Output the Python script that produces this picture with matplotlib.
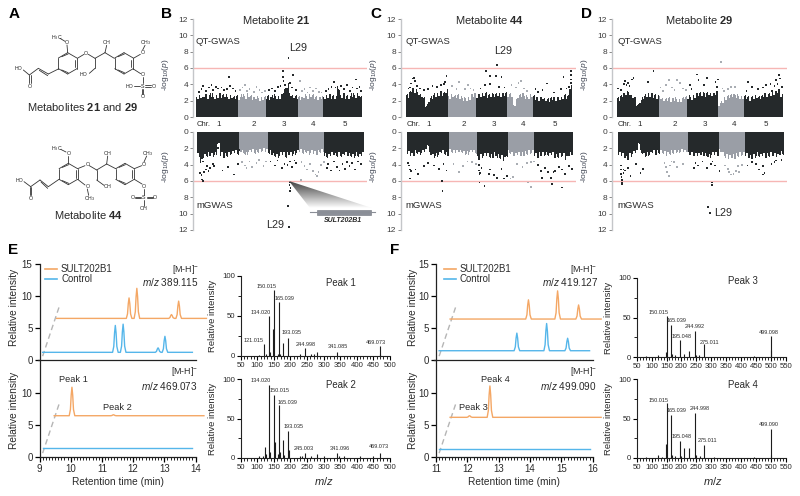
import numpy as np
import matplotlib
matplotlib.use('Agg')
import matplotlib.pyplot as plt
from matplotlib.patches import Polygon, Rectangle

plt.rcParams['font.family'] = ['Liberation Sans', 'DejaVu Sans']
plt.rcParams['mathtext.fontset'] = 'custom'
plt.rcParams['mathtext.rm'] = 'Liberation Sans'
plt.rcParams['mathtext.it'] = 'Liberation Sans:italic'
plt.rcParams['mathtext.bf'] = 'Liberation Sans:bold'

W, H = 800, 496
fig = plt.figure(figsize=(W / 100, H / 100), dpi=100)

DARK, GREY = '#25292b', '#9a9ea6'
ORANGE, BLUE = '#f4a765', '#55b6ea'
TXT = '#2a2a2a'
RED = '#f6b6b4'

# ---------- Manhattan data: 2 Mb bin heights and isolated SNPs ----------
chr_ends = [30, 50, 73, 91, 118]
chr_names = ['1', '2', '3', '4', '5']
chr_mid = [15, 40, 61.5, 82, 104.5]

B_top_env = [2.5,2.7,2.4,2.8,2.6,2.9,2.5,2.7,2.9,2.7,2.8,2.5,2.7,2.5,2.6,
             2.4,2.8,2.6,2.9,2.6,2.4,2.5,2.3,2.4,2.5,
             2.6,2.4,2.7,2.6,2.6,2.8,3.4,4.2,3.0,2.7,2.6,
             2.5,2.4,2.7,2.6,2.8,2.7,2.5,2.4,2.5,
             2.5,2.7,2.8,2.6,2.5,3.8,2.7,2.9,2.6,2.5,2.9,2.7,3.0,2.5]
B_top_x = [65.5,23.4,69,61.5,61.5,62,73.8,66.7,113.5,98,2,4,5,7,9,11,12,14,15.5,18,20,22,24,26,28,
           31,33,35,36,38,41,43,45,47,49,52,54,56,58,60,63,64,68,71,75,77,79,81,83,85,87,89,
           92,94,96,99,101,103,105,107,109,111,114,116,117]
B_top_y = [7.2,4.9,5.1,5.6,4.9,4.4,4.4,4.2,4.6,4.3,3.1,3.4,3.8,3.2,3.6,3.9,3.3,3.7,3.5,3.6,3.3,3.4,3.8,3.5,3.2,
           3.3,3.6,3.9,3.2,3.4,3.1,3.7,3.3,3.0,3.2,3.3,3.5,3.2,3.7,3.8,3.9,3.4,3.6,3.3,3.2,3.4,3.0,3.6,3.2,3.5,3.1,3.0,
           3.2,3.4,3.7,3.6,3.3,3.8,3.4,3.9,3.2,3.6,3.5,3.7,3.2]

B_bot_env = [3.0,3.8,3.2,3.0,2.9,3.0,2.8,1.5,2.9,3.2,3.0,2.8,2.7,2.6,2.7,
             2.4,2.6,2.8,2.5,2.4,2.6,2.5,2.4,2.3,2.4,
             2.6,2.8,3.0,3.1,2.9,2.8,3.1,2.8,2.9,2.7,2.6,
             2.4,2.6,2.5,2.7,2.6,2.7,2.8,2.5,2.4,
             3.0,3.2,2.9,2.8,3.0,2.9,3.1,2.8,2.9,3.0,3.1,2.9,3.1,2.9]
B_bot_x = [3,3.5,4,5,6,7,8,9,11,14.5,15,18,22,26,29,4,12,2,
           32,34,37,39,42,44,47,49,35,
           52,55,57,60,62,64,66,67,69,70,
           74,76,78,80,82,84,86,85,88,90,
           92,93,95,97,99,101,103,105,106,108,110,112,114,116,
           66,65.5,65.8,66.2,64.5,65.2,73.5]
B_bot_y = [5.3,5.8,6.0,4.9,4.6,4.2,4.8,4.4,3.9,1.4,2.0,4.7,4.3,5.2,3.9,3.6,4.2,5.0,
           3.7,4.1,3.6,4.3,3.8,3.4,4.2,3.6,4.4,
           3.6,4.1,3.5,4.4,3.9,4.0,3.6,4.3,3.5,3.8,
           3.7,4.2,4.6,3.9,4.8,5.2,4.9,5.4,4.0,3.7,
           4.4,3.9,4.7,3.6,4.3,4.7,3.9,4.5,3.7,4.2,3.8,4.6,3.6,3.9,
           6.2,6.5,7.2,6.9,9.1,11.6,5.9]

C_top_env = [2.7,3.1,3.6,3.4,3.1,2.8,2.3,1.4,2.2,2.6,2.9,3.0,3.2,3.0,3.4,
             2.6,2.8,2.6,2.7,2.5,2.3,2.3,2.4,2.8,2.9,
             2.7,2.8,3.0,3.0,2.7,2.9,2.8,3.0,2.9,2.9,3.0,
             2.8,2.9,1.5,2.2,2.7,2.9,2.6,2.5,2.8,
             2.6,2.4,2.3,2.5,2.3,2.2,2.3,2.4,2.3,2.4,2.5,2.7,2.6,4.0]
C_top_x = [3,4,5,6,6.5,2,8,10,13,16,19,22,25,27,28,29,
           33,38,36,42,44,46,48,
           53,56,57,60,64,68,60,66,70,
           75,78,80,82,84,86,
           92,94,97,100,105,110,112,114,116,117,117,117,117,
           65]
C_top_y = [3.6,4.1,4.7,4.8,4.4,3.5,3.8,3.5,3.3,3.4,3.8,3.7,3.9,4.0,4.3,5.0,
           3.8,4.3,3.4,3.4,3.9,3.5,3.3,
           3.5,3.9,5.6,5.0,5.0,4.9,4.0,3.7,3.6,
           3.9,3.6,4.2,4.4,3.5,3.2,
           3.4,3.1,3.3,4.1,3.0,3.4,4.9,3.5,3.7,5.6,5.1,4.6,4.2,
           6.4]
C_bot_env = [2.7,3.0,2.9,2.6,2.8,2.6,2.4,1.6,2.8,3.2,3.0,2.8,2.6,2.7,2.9,
             2.4,2.6,2.6,2.4,2.5,2.7,2.7,2.5,2.5,2.6,
             3.4,3.2,3.0,3.0,3.1,3.2,2.9,3.2,3.3,3.6,3.0,
             2.6,2.9,3.0,2.8,2.9,2.9,2.7,2.6,2.6,
             3.0,3.2,2.9,2.9,2.8,3.0,2.8,3.2,3.1,3.0,3.0,3.4,2.9,2.8]
C_bot_x = [1,1.5,2,2,3,6,8,12,15,19,23,26,28,
           33,37,40,43,46,49,
           51,51,52,53,51.5,58,59,62,64,67,69,71,
           75,78,82,85,88,90,
           93,95,96,98,100,102,104,105,108,110,112,115,117,
           51.5,55,73.5,86,88,103,110,25,25.2]
C_bot_y = [3.8,4.1,4.6,5.7,4.8,4.6,5.1,4.2,3.8,4.1,4.5,3.9,4.7,
           3.9,4.9,4.2,3.6,3.7,3.9,
           4.0,4.7,5.0,4.4,5.2,5.1,4.6,5.3,5.6,4.5,5.7,5.4,
           5.5,3.9,4.3,3.8,3.7,3.6,
           4.0,4.8,5.6,4.4,4.9,5.6,4.9,4.8,4.3,4.6,5.1,4.2,4.5,
           6.2,6.6,5.7,6.2,6.7,6.4,6.8,6.0,7.2]

D_top_env = [2.3,2.6,2.9,3.2,3.1,2.7,2.4,1.5,2.0,2.5,2.8,2.9,2.9,2.7,2.6,
             2.6,2.3,2.2,2.3,2.2,2.3,2.2,2.2,2.3,2.5,
             2.6,2.4,2.7,2.9,3.0,3.0,2.9,3.1,3.0,2.9,3.2,
             1.6,2.0,2.4,2.6,2.7,2.8,2.7,2.6,2.6,
             2.6,2.5,2.3,2.6,2.7,2.5,2.6,2.9,2.8,3.0,3.1,3.2,3.4,2.8]
D_top_x = [1,3,5,6,7,8,9,11,12,22,26,31,33,35,37,39,41,43,45,47,49,
           52,53,57,58,62,64,70,71,72,74,75,76,79,81,84,
           92,93,96,100,104,106,109,110,112,113,114,115,116,117]
D_top_y = [3.5,3.3,4.0,4.4,3.9,4.2,3.8,4.6,4.8,4.3,5.6,3.6,3.2,3.9,4.5,3.6,3.3,4.5,4.2,3.5,3.3,
           3.9,3.4,5.2,4.5,3.9,4.8,4.3,3.7,4.6,6.7,3.5,3.2,3.4,3.7,3.7,
           3.2,4.3,3.7,3.4,3.6,3.9,4.0,3.2,3.8,4.5,4.0,5.1,4.7,3.7]
D_bot_env = [2.8,3.0,3.2,3.4,3.0,2.7,2.6,1.3,2.6,3.0,2.9,2.8,2.6,2.8,2.6,
             2.5,2.7,2.9,2.7,2.6,2.5,2.5,2.4,2.5,2.4,
             2.8,2.9,3.0,3.0,2.8,2.9,3.0,3.1,2.8,2.8,2.9,
             2.4,2.9,3.2,3.3,3.2,3.3,3.0,2.9,2.8,
             3.0,3.2,3.3,3.1,2.9,3.1,3.0,3.2,3.0,2.9,3.0,3.1,2.8,2.7]
D_bot_x = [2,2,2,2.5,3,3,3,4,5,7,9,13,16,18,
           33,34,35,37,38,36,40,42,46,
           54,55,57,60,63,66,67,69,72,
           76,78,79,80,82,84,85,86,88,
           92,95,98,100,103,103,104,109,111,112,116,
           66.5,66.5,64,65.5,4]
D_bot_y = [4.1,4.6,5.1,5.5,5.9,6.2,6.4,5.0,4.7,4.4,5.4,3.9,5.0,4.5,
           3.8,4.3,4.9,4.1,3.6,5.4,3.7,4.3,3.9,
           4.4,3.8,4.1,3.6,4.4,3.9,3.6,4.1,4.8,
           4.1,4.5,4.9,5.2,5.1,4.8,4.2,4.9,4.0,
           4.1,3.7,3.9,4.6,4.2,5.2,5.0,3.9,3.7,3.5,3.4,
           6.2,6.5,9.2,9.9,4.6]

# ---------- chromatograms: (retention time, apex value) above a baseline ----------
E_top_org_span = (9.55, 14.35); E_top_org_base = 6.5
E_top_org_rt = [11.87, 12.12, 13.23, 13.46]; E_top_org_apex = [9.7, 11.2, 7.1, 9.2]
E_top_blu_span = (9.1, 13.9); E_top_blu_base = 1.2
E_top_blu_rt = [11.43, 11.68, 12.8, 13.02]; E_top_blu_apex = [5.4, 5.6, 1.9, 3.7]
E_bot_org_span = (9.47, 14.27); E_bot_org_base = 6.45
E_bot_org_rt = [10.04, 11.37]; E_bot_org_apex = [10.9, 6.6]
E_bot_blu_span = (9.1, 13.9); E_bot_blu_base = 1.45
F_top_org_span = (11.45, 16.27); F_top_org_base = 6.4
F_top_org_rt = [13.95, 14.88, 15.55]; F_top_org_apex = [9.4, 10.8, 8.6]
F_top_blu_span = (11.1, 15.9); F_top_blu_base = 1.45
F_top_blu_rt = [13.58, 14.53, 15.2]; F_top_blu_apex = [4.2, 5.7, 3.4]
F_bot_org_span = (11.45, 16.27); F_bot_org_base = 6.2
F_bot_org_rt = [12.07, 12.72]; F_bot_org_apex = [6.45, 11.1]
F_bot_blu_span = (11.1, 15.9); F_bot_blu_base = 1.3

# ---------- MS/MS sticks ----------
P1_mz = [105,121,125,134,137,148,150,163,165,168,178,193,228,245,262,270,281,341,469,471]
P1_in = [1,15,2,50,5,34,83,3,68,3,16,23,2,10,2,2,5,5,13,2]
P1_lab = ['121.015','134.020','150.015','165.039','193.035','244.998','341.085','469.073']
P1_lab_xy = [(254,340),(261,312),(267,287),(285,298),(292,333),(306,345),(338,347),(376,342)]
P2_mz = [105,118,122,125,134,137,150,152,163,165,168,178,182,193,195,228,236,245,262,281,300,341,347,362,410,450,469]
P2_in = [3,2,14,5,93,7,80,20,5,67,7,23,4,34,10,3,3,6,3,5,2,6,3,3,2,2,6]
P2_lab = ['134.020','150.015','165.039','193.035','245.003','341.096','469.073']
P2_lab_xy = [(261,381),(280,391),(288,402),(294,427),(304,448),(340,448),(379,447)]
P3_mz = [80,120,148,150,165,167,180,195,210,224,245,250,260,275,445,499,500]
P3_in = [1,2,6,52,41,4,3,22,4,7,33,3,3,16,1,27,9]
P3_lab = ['150.015','165.039','195.048','244.992','275.011','499.098']
P3_lab_xy = [(659,312),(677,321),(682,336),(695,327),(709,342),(769,333)]
P4_mz = [80,120,135,148,150,165,167,180,195,200,210,224,245,250,262,275,310,445,499,500]
P4_in = [1,4,1,18,69,54,4,3,21,3,13,13,57,4,3,17,1,1,37,4]
P4_lab = ['150.015','165.039','195.048','244.998','275.011','499.090']
P4_lab_xy = [(659,401),(677,411),(682,437),(700,409),(707,440),(769,425)]


def ax_px(x0, y0, x1, y1):
    """Axes from pixel box (top-left origin)."""
    return fig.add_axes([x0 / W, 1 - y1 / H, (x1 - x0) / W, (y1 - y0) / H])


PX_PER_MB = 1.41


def manhattan(axis_x, data_x, right, y_top, y_zero, env, xs, ys, inverted):
    if inverted:
        ax = ax_px(axis_x, y_zero, right, y_top)
        ax.set_ylim(12, 0)
    else:
        ax = ax_px(axis_x, y_top, right, y_zero)
        ax.set_ylim(0, 12)
    ax.set_xlim((axis_x - data_x) / PX_PER_MB, (right - data_x) / PX_PER_MB)
    ends = np.array(chr_ends)
    env = np.array(env)
    centers = np.arange(len(env)) * 2 + 1
    bin_col = [DARK if np.searchsorted(ends, c, side='right') % 2 == 0 else GREY for c in centers]
    # solid body with a comb of thin columns on top: the SNP fringe
    ax.bar(centers, env * 0.86, width=2.02, color=bin_col, linewidth=0, zorder=2)
    ax.bar(centers - 0.45, env, width=0.6, color=bin_col, linewidth=0, zorder=2)
    ax.bar(centers + 0.5, env * 0.93 + 0.25, width=0.45, color=bin_col, linewidth=0, zorder=2)
    xs = np.array(xs); ys = np.array(ys)
    pt_col = [DARK if np.searchsorted(ends, c, side='right') % 2 == 0 else '#a9adb3' for c in xs]
    ax.scatter(xs, ys, s=1.5, c=pt_col, marker='s', linewidths=0, zorder=3, clip_on=False)
    ax.axhline(6, color=RED, lw=1.0, zorder=1)
    for s in ['top', 'right', 'bottom']:
        ax.spines[s].set_visible(False)
    ax.spines['left'].set_color('#c4c6c9')
    ax.spines['left'].set_linewidth(1.0)
    ax.set_yticks(range(0, 13, 2))
    ax.set_xticks([])
    ax.tick_params(axis='y', labelsize=6.0, length=2, width=0.6, color='#777777',
                   labelcolor='#3c3c3c', pad=1.5)
    ax.patch.set_alpha(0)
    ax.set_ylabel(r'-log$_{10}$($\it{p}$)', fontsize=6.0, color='#3c4250', labelpad=1.5)
    ax.yaxis.set_label_coords(-22 / (right - axis_x), 0.65 if inverted else 0.43)
    return ax


panels = [
    (193, 196, 367, B_top_env, B_top_x, B_top_y, B_bot_env, B_bot_x, B_bot_y),
    (401, 405.7, 576, C_top_env, C_top_x, C_top_y, C_bot_env, C_bot_x, C_bot_y),
    (612, 616.7, 787, D_top_env, D_top_x, D_top_y, D_bot_env, D_bot_x, D_bot_y),
]
for ax_x, d_x, r, te, tx, ty, be, bx, by in panels:
    manhattan(ax_x, d_x, r, 19, 117, te, tx, ty, False)
    manhattan(ax_x, d_x + 1.2, r, 230, 132, be, bx, by, True)


def trace(base, rts, apex, span, width=0.07):
    t = [span[0]]; v = [base]
    for rt, a in sorted(zip(rts, apex)):
        h = a - base
        t += [rt - width * 1.25, rt - width * 0.7, rt - width * 0.35, rt, rt + width * 0.35, rt + width * 0.7, rt + width * 1.3]
        v += [base, base + 0.22 * h, base + 0.72 * h, a, base + 0.72 * h, base + 0.22 * h, base]
    t.append(span[1]); v.append(base)
    return t, v


def chrom(x_l, x_r, xlim, y_t, y_m, y_b, traces_top, traces_bot):
    # traces_*: list of (base, rts, apex, span, colour)
    ax = ax_px(x_l, y_t, x_r, y_b)
    ppu = (y_m - y_t) / 15.0
    off = (y_b - y_m) / ppu
    ax.set_xlim(*xlim)
    ax.set_ylim(-0.0, (y_b - y_t) / ppu)
    for s in ['top', 'right']:
        ax.spines[s].set_visible(False)
    for s in ['left', 'bottom']:
        ax.spines[s].set_linewidth(0.9)
        ax.spines[s].set_color('#222222')
    for tr_list, shift in ((traces_top, off), (traces_bot, 0)):
        for base, rts, apex, span, col in tr_list:
            t, v = trace(base, rts, apex, span)
            ax.plot(t, np.array(v) + shift, color=col, lw=1.0, clip_on=False, solid_joinstyle='round', zorder=3)
    ax.plot([xlim[0] - 0.06, xlim[1]], [off, off], color='#222222', lw=0.9, clip_on=False, zorder=2)
    ax.plot([xlim[0] + 0.1, xlim[0] + 0.65], [off + 0.6, off + 8.6], color='#b5b5b5', lw=1.0, ls=(0, (4, 2.6)), clip_on=False)
    ax.plot([xlim[0] + 0.1, xlim[0] + 0.65], [0.6, 8.6], color='#b5b5b5', lw=1.0, ls=(0, (4, 2.6)), clip_on=False)
    ax.set_yticks([0, 5, 10, off, off + 5, off + 10, off + 15])
    ax.set_yticklabels(['0', '5', '10', '0', '5', '10', '15'])
    ax.set_xticks(np.arange(xlim[0], xlim[1] + 0.01, 1))
    ax.set_xticks(np.arange(xlim[0], xlim[1] + 0.01, 0.1), minor=True)
    ax.tick_params(axis='x', which='major', length=3.5, width=0.9, labelsize=7, pad=1.5, labelcolor=TXT)
    ax.tick_params(axis='x', which='minor', length=2, width=0.6)
    ax.tick_params(axis='y', length=3.5, width=0.9, labelsize=7, pad=1.5, labelcolor=TXT)
    ax.patch.set_alpha(0)
    ax.set_xlabel('Retention time (min)', fontsize=7.3, color=TXT, labelpad=2.5)
    return ax


chrom(39.5, 195.5, (9, 14), 264, 360, 457,
      [(E_top_org_base, E_top_org_rt, E_top_org_apex, E_top_org_span, ORANGE),
       (E_top_blu_base, E_top_blu_rt, E_top_blu_apex, E_top_blu_span, BLUE)],
      [(E_bot_org_base, E_bot_org_rt, E_bot_org_apex, E_bot_org_span, ORANGE),
       (E_bot_blu_base, [], [], E_bot_blu_span, BLUE)])
chrom(436, 592.7, (11, 16), 264, 360, 457,
      [(F_top_org_base, F_top_org_rt, F_top_org_apex, F_top_org_span, ORANGE),
       (F_top_blu_base, F_top_blu_rt, F_top_blu_apex, F_top_blu_span, BLUE)],
      [(F_bot_org_base, F_bot_org_rt, F_bot_org_apex, F_bot_org_span, ORANGE),
       (F_bot_blu_base, [], [], F_bot_blu_span, BLUE)])


def msms(x0, x1, y_t, y_b, xmax, mz, intensity):
    ax = ax_px(x0, y_t, x1, y_b)
    ax.set_xlim(50, xmax); ax.set_ylim(0, 100)
    ax.vlines(mz, 0, intensity, color='#1c1c1c', lw=0.8, zorder=3)
    for s in ['top', 'right']:
        ax.spines[s].set_visible(False)
    for s in ['left', 'bottom']:
        ax.spines[s].set_linewidth(0.8)
        ax.spines[s].set_color('#222222')
    ax.set_xticks(np.arange(50, xmax + 1, 50))
    ax.set_xticks(np.arange(50, xmax + 1, 10), minor=True)
    ax.set_yticks([0, 50, 100])
    ax.set_yticks([25, 75], minor=True)
    ax.tick_params(axis='both', which='major', length=3, width=0.8, labelsize=5.6, pad=1, labelcolor=TXT)
    ax.tick_params(axis='both', which='minor', length=2, width=0.6)
    ax.patch.set_alpha(0)
    ax.set_ylabel('Relative intensity', fontsize=6.8, color=TXT)
    ax.yaxis.set_label_coords((x0 - 23.5 - x0) / (x1 - x0), 0.5)
    return ax


msms(240.7, 390, 276, 356, 500, P1_mz, P1_in)
msms(240.7, 390, 379, 458, 500, P2_mz, P2_in)
msms(636.7, 785.7, 278, 357, 550, P3_mz, P3_in)
msms(636.7, 785.7, 379, 458, 550, P4_mz, P4_in)

# ---------- overlay in pixel space: text, schemes, molecules ----------
ov = fig.add_axes([0, 0, 1, 1], zorder=20)
ov.set_xlim(0, W); ov.set_ylim(H, 0); ov.axis('off'); ov.patch.set_alpha(0)


def T(x, y, s, size=8, ha='center', **kw):
    kw.setdefault('color', TXT)
    ov.text(x, y, s, fontsize=size, ha=ha, va='center', **kw)


for x, y, s in [(14, 14, 'A'), (167, 14, 'B'), (376, 14, 'C'), (587, 14, 'D'), (13, 250, 'E'), (395, 250, 'F')]:
    T(x, y, s, 11, fontweight='bold', color='black')

for x, s in [(276, '21'), (489, '44'), (699, '29')]:
    T(x, 20, 'Metabolite $\\mathbf{%s}$' % s, 8.0)
for x in (196, 405.5, 617):
    T(x, 42, 'QT-GWAS', 6.8, ha='left')
    T(x, 205, 'mGWAS', 6.8, ha='left')
for d_x in (196, 405.7, 616.7):
    T(d_x + 8, 125, 'Chr.', 5.5)
    for m, n in zip(chr_mid, chr_names):
        T(d_x + m * PX_PER_MB + 1.5, 125, n, 5.8)
for x, y in [(298, 48), (503, 51), (275, 225), (723, 213)]:
    T(x, y, 'L29', 7.8)

# SULT202B1 inset
grad = np.linspace(0.25, 1, 256).reshape(-1, 1)
im = ov.imshow(grad, cmap='gray', vmin=0, vmax=1, extent=(288, 373, 208, 181), aspect='auto', zorder=1)
tri = Polygon([(289, 181), (372, 208), (310, 208)], transform=ov.transData, fc='none', ec='none')
ov.add_patch(tri)
im.set_clip_path(tri)
ov.set_xlim(0, W); ov.set_ylim(H, 0)
ov.plot([310, 375], [212, 212], color='#8a8e96', lw=0.8)
ov.add_patch(Rectangle((317, 209.5), 54, 5, fc='#8c9099', ec='#70747c', lw=0.4))
T(343, 221, 'SULT202B1', 5.0, fontstyle='italic', fontweight='bold')

# Legends and annotations of E and F
for x_line, x_txt in [(45, 61), (443.5, 460)]:
    ov.plot([x_line, x_line + 12], [268.5, 268.5], color=ORANGE, lw=1.2)
    ov.plot([x_line, x_line + 12], [279, 279], color=BLUE, lw=1.2)
    T(x_txt, 269, 'SULT202B1', 6.9, ha='left')
    T(x_txt, 279, 'Control', 6.9, ha='left')
for x, y, s in [(199, 269, '[M-H]$^{-}$'), (597, 269, '[M-H]$^{-}$'), (198, 372, '[M-H]$^{-}$'), (597, 372, '[M-H]$^{-}$')]:
    T(x, y, s, 6.4, ha='right')
for x, y, s in [(199, 282, r'$\it{m/z}$ 389.115'), (598, 282, r'$\it{m/z}$ 419.127'),
                (198, 386, r'$\it{m/z}$ 469.073'), (597, 386, r'$\it{m/z}$ 499.090')]:
    T(x, y, s, 7.2, ha='right')
for x, y, s in [(73, 379, 'Peak 1'), (117, 408, 'Peak 2'), (495, 379, 'Peak 4'), (473, 407, 'Peak 3')]:
    T(x, y, s, 6.7)
for x, y, s in [(341, 283, 'Peak 1'), (341, 385, 'Peak 2'), (743, 281, 'Peak 3'), (743, 385, 'Peak 4')]:
    T(x, y, s, 6.9)
for labs, pos in [(P1_lab, P1_lab_xy), (P2_lab, P2_lab_xy), (P3_lab, P3_lab_xy), (P4_lab, P4_lab_xy)]:
    for s, (x, y) in zip(labs, pos):
        T(x, y, s, 4.0)
T(324, 481, r'$\it{m/z}$', 8)
T(713, 481, r'$\it{m/z}$', 8)
T(14, 307, 'Relative intensity', 7.3, rotation=90)
T(14, 410, 'Relative intensity', 7.3, rotation=90)
T(413, 307, 'Relative intensity', 7.3, rotation=90)
T(413, 410, 'Relative intensity', 7.3, rotation=90)


# Molecules (drawn from zoomed-crop coordinates, scale 1/3)
def bonds(pts):
    for (a, b) in pts:
        ov.plot([a[0] / 3, b[0] / 3], [a[1] / 3, b[1] / 3], color='#333333', lw=0.6, solid_capstyle='round')


def ring(cx, cy, r=32):
    d = 0.866 * r
    v = [(cx, cy - r), (cx + d, cy - r / 2), (cx + d, cy + r / 2), (cx, cy + r), (cx - d, cy + r / 2), (cx - d, cy - r / 2)]
    segs = [(v[i], v[(i + 1) % 6]) for i in range(6)]
    inner = [((cx + d * 0.78, cy - r * 0.35), (cx + d * 0.78, cy + r * 0.35)),
             ((cx - d * 0.65, cy + r * 0.62), (cx + d * 0.05, cy + r * 0.88)),
             ((cx - d * 0.65, cy - r * 0.62), (cx + d * 0.05, cy - r * 0.88))]
    return segs + inner


bonds(ring(203, 190) + ring(372, 190))
bonds([((70, 210), (88, 225)), ((88, 225), (88, 250)), ((92, 225), (92, 250)), ((88, 225), (115, 205)),
       ((115, 205), (145, 222)), ((118, 211), (143, 227)), ((145, 222), (175, 207)), ((203, 158), (201, 135)),
       ((195, 124), (180, 115)), ((232, 175), (252, 163)), ((265, 163), (285, 175)), ((285, 175), (315, 158)),
       ((315, 158), (320, 136)), ((285, 175), (285, 205)), ((285, 205), (268, 220)), ((315, 158), (343, 175)),
       ((400, 175), (421, 163)), ((428, 150), (435, 136)), ((400, 207), (422, 221)), ((428, 231), (428, 250)),
       ((402, 258), (420, 258)), ((436, 256), (452, 256)), ((436, 260), (452, 260)), ((426, 266), (426, 282)),
       ((430, 266), (430, 282))])
for x, y, s in [(55, 207, 'HO'), (88, 258, 'O'), (201, 127, 'O'), (170, 112, 'H$_3$C'),
                (258, 160, 'O'), (320, 128, 'OH'), (252, 225, 'HO'), (428, 158, 'O'),
                (437, 128, 'CH$_3$'), (428, 224, 'O'), (428, 258, 'S'), (390, 258, 'HO'),
                (460, 258, 'O'), (428, 290, 'O')]:
    T(x / 3, y / 3, s, 3.8, color='#222222')
T(83, 107, 'Metabolites $\\mathbf{21}$ and $\\mathbf{29}$', 8.0)

bonds(ring(205, 522) + ring(375, 522))
bonds([((72, 545), (92, 560)), ((90, 560), (90, 585)), ((94, 560), (94, 585)), ((92, 560), (120, 540)),
       ((120, 540), (145, 560)), ((123, 546), (143, 565)), ((145, 560), (177, 538)), ((205, 490), (205, 468)),
       ((198, 456), (182, 448)), ((233, 506), (255, 497)), ((268, 497), (290, 510)), ((290, 510), (320, 492)),
       ((320, 492), (323, 468)), ((290, 510), (290, 540)), ((290, 540), (312, 556)), ((320, 492), (347, 506)),
       ((233, 538), (255, 555)), ((262, 567), (266, 586)), ((403, 506), (425, 497)), ((432, 486), (440, 468)),
       ((403, 538), (426, 552)), ((432, 566), (432, 584)), ((405, 590), (424, 590)), ((405, 594), (424, 594)),
       ((440, 590), (458, 590)), ((440, 594), (458, 594)), ((432, 600), (432, 618))])
for x, y, s in [(58, 543, 'HO'), (92, 595, 'O'), (205, 460, 'O'), (170, 445, 'H$_3$C'), (262, 494, 'O'), (323, 460, 'OH'),
                (322, 560, 'OH'), (262, 560, 'O'), (268, 595, 'CH$_3$'), (432, 494, 'O'), (442, 460, 'CH$_3$'),
                (432, 558, 'O'), (432, 592, 'S'), (398, 592, 'O'), (465, 592, 'O'), (432, 625, 'OH')]:
    T(x / 3, y / 3, s, 3.8, color='#222222')
T(88, 215, 'Metabolite $\\mathbf{44}$', 8.0)

fig.savefig('out.png', dpi=100)
